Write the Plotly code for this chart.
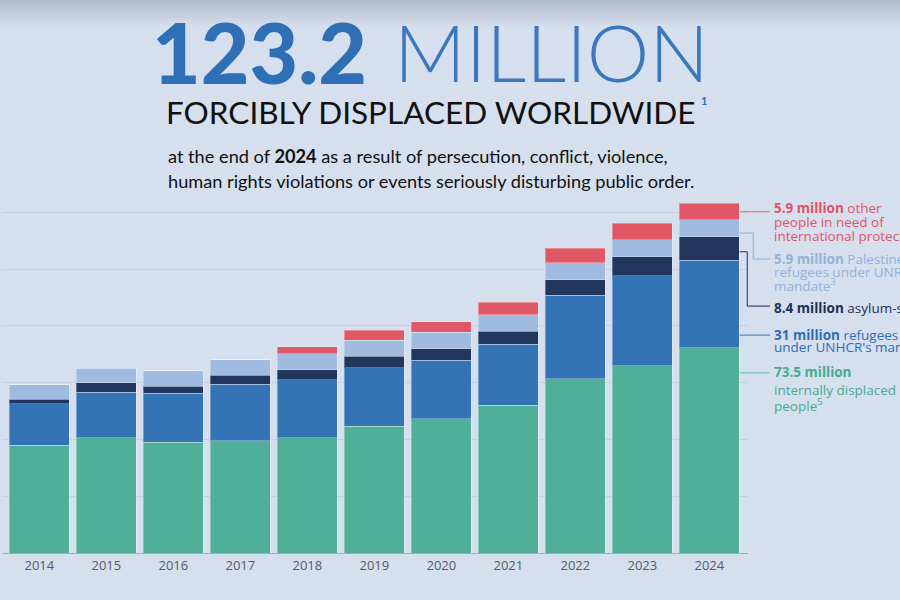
import plotly.graph_objects as go

years = ["2014", "2015", "2016", "2017", "2018", "2019", "2020", "2021", "2022", "2023", "2024"]
idps = [38.0, 40.6, 39.0, 39.5, 40.6, 44.7, 47.2, 52.1, 61.4, 65.9, 72.3]
refugees = [14.5, 16.1, 17.3, 20.0, 20.5, 20.5, 20.7, 21.5, 29.3, 31.7, 30.9]
asylum = [1.7, 3.2, 2.5, 3.1, 3.4, 4.1, 4.1, 4.5, 5.5, 6.7, 8.2]
palestine = [5.1, 5.2, 5.4, 5.4, 5.6, 5.6, 5.8, 5.8, 6.0, 6.1, 6.0]
other = [0, 0, 0, 0, 2.6, 3.6, 3.7, 4.5, 5.2, 5.8, 5.8]

series = [
    ("Internally displaced people", idps, "#50af98"),
    ("Refugees under UNHCR's mandate", refugees, "#3473b6"),
    ("Asylum-seekers", asylum, "#22355c"),
    ("Palestine refugees under UNRWA's mandate", palestine, "#9fbbe0"),
    ("Other people in need of international protection", other, "#e05866"),
]

W, H = 900, 600
PL, PR, PT, PB = 2, 748, 200, 552.7
YMAX = (PB - PT) / 2.8367

def px(x):
    return (x - PL) / (PR - PL)

def py(y):
    return (PB - y) / (PB - PT)

fig = go.Figure()
for name, vals, col in series:
    fig.add_trace(go.Bar(
        x=years, y=vals, name=name,
        marker=dict(color=col, line=dict(color="rgba(255,255,255,0.3)", width=1)),
        hoverinfo="x+y+name",
    ))

shapes = []
# top shading gradient
top_c = (179, 187, 204)
bg_c = (214, 223, 238)
n = 14
for i in range(n):
    t = i / (n - 1)
    c = tuple(round(top_c[k] + (bg_c[k] - top_c[k]) * t) for k in range(3))
    shapes.append(dict(type="rect", xref="paper", yref="paper",
                       x0=-0.01, x1=1.3, y0=py(i * 2), y1=py(i * 2 + 2.2),
                       fillcolor="rgb(%d,%d,%d)" % c, line=dict(width=0), layer="below"))

# connectors
bx = 739.5
conn = [
    ("#e27a85", [(bx, 211.7), (770, 211.7)]),
    ("#9ab6dd", [(bx, 233), (753.3, 233), (753.3, 259), (770, 259)]),
    ("#3a4a6e", [(bx, 251.7), (747.3, 251.7), (747.3, 306), (770, 306)]),
    ("#4f84c0", [(bx, 335), (770, 335)]),
    ("#79c3b1", [(bx, 372.7), (770, 372.7)]),
]
for col, pts in conn:
    for (x0, y0), (x1, y1) in zip(pts[:-1], pts[1:]):
        shapes.append(dict(type="line", xref="paper", yref="paper",
                           x0=px(x0), y0=py(y0), x1=px(x1), y1=py(y1),
                           line=dict(color=col, width=1.2)))

ann = []
def txt(s, x, y, size, color, family="Lato", weight=None, xanchor="left", yanchor="middle"):
    f = dict(size=size, color=color, family=family)
    if weight is not None:
        f["weight"] = weight
    ann.append(dict(text=s, x=px(x), y=py(y), xref="paper", yref="paper",
                    xanchor=xanchor, yanchor=yanchor, showarrow=False, font=f))

BLUE = "#2f6fb6"
txt("123.2", 369, 52, 84, BLUE, family="Lato", weight=900, xanchor="right")
txt("MILLION", 392, 52, 79, "#3a78bd", family="Lato", weight=300, xanchor="left")
txt("FORCIBLY DISPLACED WORLDWIDE", 430, 112, 31.5, "#111111", family="Lato", weight=400, xanchor="center")
txt("1", 699, 101, 11, BLUE, family="Lato", weight=700)
txt("at the end of <b>2024</b> as a result of persecution, conflict, violence,", 166, 156, 18.2, "#111111", family="Lato")
txt("human rights violations or events seriously disturbing public order.", 166, 181, 18.2, "#111111", family="Lato")

LF = "Open Sans"
LS = 13.5
RED, LB, DK, BL, GR = "#de5563", "#93b2dc", "#1e2f55", "#2f6db5", "#45ab91"
lx = 772
txt("<b>5.9 million</b> other", lx, 207.5, LS, RED, LF)
txt("people in need of", lx, 221.5, LS, RED, LF)
txt("international protection<sup>2</sup>", lx, 234.5, LS, RED, LF)
txt("<b>5.9 million</b> Palestine", lx, 258.5, LS, LB, LF)
txt("refugees under UNRWA's", lx, 271.5, LS, LB, LF)
txt("mandate<sup>3</sup>", lx, 285, LS, LB, LF)
txt("<b>8.4 million</b> asylum-seekers<sup>4</sup>", lx, 306.5, LS, DK, LF)
txt("<b>31 million</b> refugees", lx, 334.5, LS, BL, LF)
txt("under UNHCR's mandate", lx, 347, LS, BL, LF)
txt("<b>73.5 million</b>", lx, 371.5, LS, GR, LF)
txt("internally displaced", lx, 390, LS, GR, LF)
txt("people<sup>5</sup>", lx, 404.5, LS, GR, LF)

fig.update_layout(
    width=W, height=H,
    barmode="stack", bargap=7 / 67,
    showlegend=False,
    paper_bgcolor="#d6dfee", plot_bgcolor="#d6dfee",
    margin=dict(l=PL, r=W - PR, t=PT, b=H - PB, pad=0),
    shapes=shapes, annotations=ann,
    xaxis=dict(range=[-0.557, 10.577], showgrid=False, showline=True,
               linecolor="#a3abb8", linewidth=1, ticks="",
               tickfont=dict(family="Open Sans", size=13, color="#545a64"),
               fixedrange=True),
    yaxis=dict(range=[0, YMAX], showticklabels=False, showline=False,
               dtick=20, gridcolor="#c7d0df", gridwidth=1, zeroline=False,
               fixedrange=True),
)

fig.write_html("out.html")
